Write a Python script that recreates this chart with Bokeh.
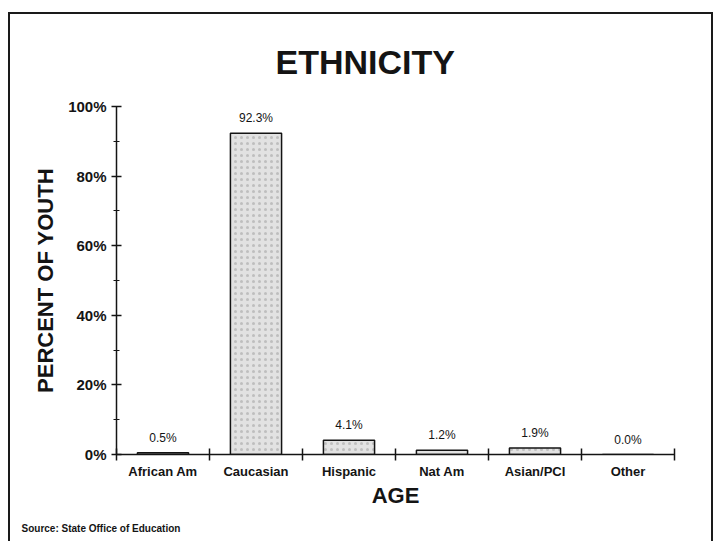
from bokeh.plotting import figure
from bokeh.models import (ColumnDataSource, FixedTicker, NumeralTickFormatter,
                          Range1d, Title)
from bokeh.core.properties import value
from bokeh.embed import file_html
from bokeh.resources import INLINE

categories = ["African Am", "Caucasian", "Hispanic", "Nat Am", "Asian/PCI", "Other"]
percents = [0.5, 92.3, 4.1, 1.2, 1.9, 0.0]
value_labels = ["0.5%", "92.3%", "4.1%", "1.2%", "1.9%", "0.0%"]
y_ticks = [0, 20, 40, 60, 80, 100]
y_minor = [10, 30, 50, 70, 90]

centers = [i + 0.5 for i in range(len(categories))]
bounds = list(range(len(categories) + 1))

src = ColumnDataSource(dict(x=centers, top=percents, lab=value_labels))

FONT = "Liberation Sans"
INK = "#141414"

p = figure(width=705, height=529, output_backend="svg", toolbar_location=None,
           x_range=Range1d(0, len(categories)), y_range=Range1d(0, 100),
           min_border_left=106, min_border_top=92, min_border_right=41,
           min_border_bottom=87)
p.margin = (12, 0, 0, 8)
p.styles = {"border-left": "2px solid #1a1a1a", "border-right": "2px solid #1a1a1a",
            "border-top": "2px solid #1a1a1a"}
p.outline_line_color = None
p.grid.visible = False
p.background_fill_color = "white"
p.border_fill_color = "white"

p.title = Title(text="ETHNICITY", align="left", offset=159, standoff=52,
                text_font=FONT, text_font_size="34px", text_font_style="bold",
                text_color=INK)
p.add_layout(Title(text="Source:  State Office of Education", align="left", offset=-95,
                   standoff=20, text_font=FONT, text_font_size="10px",
                   text_font_style="bold", text_color=INK), "below")

p.vbar(x="x", top="top", width=0.55, bottom=0, source=src,
       fill_color="#e2e2e2", line_color=INK, line_width=1.5,
       hatch_pattern="dot", hatch_color="#7a7a7a", hatch_alpha=0.35, hatch_scale=6)

p.text(x="x", y="top", text="lab", source=src, text_align="center",
       text_baseline="middle", y_offset=-15, text_font=value(FONT),
       text_font_size="12px", text_color=INK)

# x axis
xa = p.xaxis[0]
xa.ticker = FixedTicker(ticks=centers, minor_ticks=bounds)
xa.major_label_overrides = {c: lab for c, lab in zip(centers, categories)}
xa.major_tick_out = 0
xa.major_tick_in = 0
xa.minor_tick_out = 6
xa.minor_tick_in = 6
xa.minor_tick_line_color = INK
xa.minor_tick_line_width = 1.5
xa.axis_line_color = INK
xa.axis_line_width = 1.5
xa.major_label_standoff = 3
xa.major_label_text_font = FONT
xa.major_label_text_font_style = "bold"
xa.major_label_text_font_size = "13px"
xa.major_label_text_color = INK
xa.axis_label = "AGE"
xa.axis_label_text_font = FONT
xa.axis_label_text_font_style = "bold"
xa.axis_label_text_font_size = "22px"
xa.axis_label_text_color = INK
xa.axis_label_standoff = 1

# y axis
ya = p.yaxis[0]
ya.ticker = FixedTicker(ticks=y_ticks, minor_ticks=y_minor)
ya.formatter = NumeralTickFormatter(format="0")
ya.major_label_overrides = {t: f"{t}%" for t in y_ticks}
ya.major_tick_out = 5
ya.major_tick_in = 5
ya.minor_tick_out = 3
ya.minor_tick_in = 3
ya.major_tick_line_color = INK
ya.minor_tick_line_color = INK
ya.major_tick_line_width = 1.5
ya.axis_line_color = INK
ya.axis_line_width = 1.5
ya.major_label_standoff = 5
ya.major_label_text_font = FONT
ya.major_label_text_font_style = "bold"
ya.major_label_text_font_size = "15px"
ya.major_label_text_color = INK
ya.axis_label = "PERCENT OF YOUTH"
ya.axis_label_text_font = FONT
ya.axis_label_text_font_style = "bold"
ya.axis_label_text_font_size = "22px"
ya.axis_label_text_color = INK
ya.axis_label_standoff = 7

open("out.html", "w").write(file_html(p, INLINE))
